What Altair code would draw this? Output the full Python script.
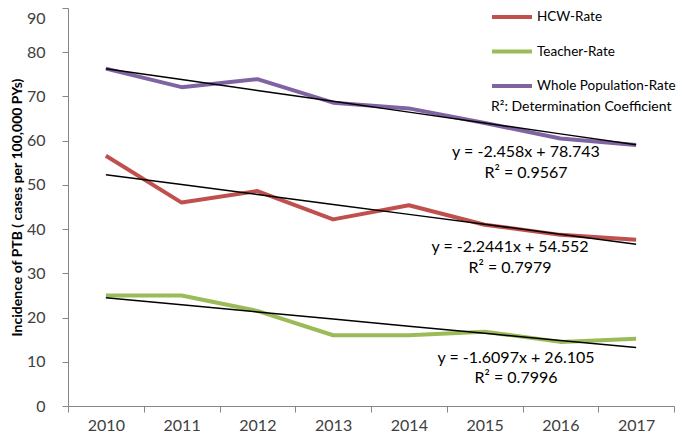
import altair as alt
import pandas as pd

years = ["2010", "2011", "2012", "2013", "2014", "2015", "2016", "2017"]
series_names = ["HCW-Rate", "Teacher-Rate", "Whole Population-Rate"]
hcw = [56.6, 46.0, 48.6, 42.2, 45.4, 41.0, 38.7, 37.6]
teacher = [25.0, 25.0, 21.5, 16.0, 16.0, 16.8, 14.5, 15.2]
whole = [76.3, 72.1, 73.9, 68.6, 67.3, 64.0, 60.5, 59.0]
colors = ["#C0504D", "#9BBB59", "#8064A2"]

# trend-line coefficients (from the chart's equations)
slopes = [-2.2441, -1.6097, -2.458]
intercepts = [54.552, 26.105, 78.743]
eq_labels = ["y = -2.2441x + 54.552", "y = -1.6097x + 26.105", "y = -2.458x + 78.743"]
r2_labels = ["R² = 0.7979", "R² = 0.7996", "R² = 0.9567"]
note = "R²: Determination Coefficient"
y_title = "Incidence of PTB ( cases per 100,000 PYs)"

FONT = "Lato"

rows = []
trend_rows = []
for name, vals, s, b in zip(series_names, [hcw, teacher, whole], slopes, intercepts):
    for i, (yr, v) in enumerate(zip(years, vals)):
        rows.append({"year": yr, "series": name, "value": v})
        trend_rows.append({"year": yr, "series": name, "value": b + s * (i + 1)})
df = pd.DataFrame(rows)
tdf = pd.DataFrame(trend_rows)

x_scale = alt.Scale(type="band", paddingInner=0, paddingOuter=0, domain=years)

x_enc = alt.X(
    "year:O",
    bandPosition=0.5,
    scale=x_scale,
    axis=alt.Axis(
        title=None, labelAngle=0, tickBand="extent", labelFont=FONT, labelFontSize=16,
        labelColor="#404040", domainColor="#868686", tickColor="#868686", tickSize=6,
        labelPadding=5, grid=False,
    ),
)
y_enc = alt.Y(
    "value:Q",
    scale=alt.Scale(domain=[0, 90], nice=False),
    axis=alt.Axis(
        title=y_title, values=list(range(0, 91, 10)), labelFont=FONT, labelFontSize=16,
        labelColor="#404040", titleFont=FONT, titleFontSize=14, titleFontWeight="bold",
        titleColor="#000000", domainColor="#868686", tickColor="#868686", tickSize=6,
        labelPadding=17, titlePadding=2, grid=False,
        labelOffset={"condition": {"test": "datum.value == 90", "value": 10}, "value": 0},
    ),
)

lines = alt.Chart(df).mark_line(strokeWidth=4, strokeJoin="round").encode(
    x=x_enc,
    y=y_enc,
    color=alt.Color(
        "series:N",
        scale=alt.Scale(domain=series_names, range=colors),
        sort=series_names,
        legend=alt.Legend(
            title=None, orient="none", legendX=422, legendY=-13,
            symbolType="stroke", symbolStrokeWidth=4, symbolSize=1600,
            labelFont=FONT, labelFontSize=13.5, labelColor="#000000",
            rowPadding=4.5, labelOffset=3,
        ),
    ),
)

trend = alt.Chart(tdf).mark_line(color="black", strokeWidth=1.5).encode(
    x=alt.X("year:O", bandPosition=0.5, scale=x_scale),
    y="value:Q",
    detail="series:N",
)

eq_pos = [(442, 239, 260), (448, 350, 370), (458, 144, 165)]
texts = []
for (tx, ty, ry), eq, r2 in zip(eq_pos, eq_labels, r2_labels):
    texts.append(alt.Chart(pd.DataFrame({"t": [eq]})).mark_text(font=FONT, fontSize=16, color="#000000", align="center", baseline="middle").encode(
        x=alt.value(tx), y=alt.value(ty), text="t:N"))
    texts.append(alt.Chart(pd.DataFrame({"t": [r2]})).mark_text(font=FONT, fontSize=16, color="#000000", align="center", baseline="middle").encode(
        x=alt.value(tx), y=alt.value(ry), text="t:N"))

note_txt = alt.Chart(pd.DataFrame({"t": [note]})).mark_text(font=FONT, fontSize=14, color="#000000", align="left", baseline="middle").encode(
    x=alt.value(423), y=alt.value(99), text="t:N")

chart = alt.layer(lines, trend, *texts, note_txt).properties(
    width=606, height=398,
    autosize=alt.AutoSizeParams(type="none"),
    padding={"left": 60, "top": 0, "right": 3, "bottom": 29},
).configure_view(stroke=None)

chart.save("out.html", embed_options={"renderer": "svg", "actions": False})
